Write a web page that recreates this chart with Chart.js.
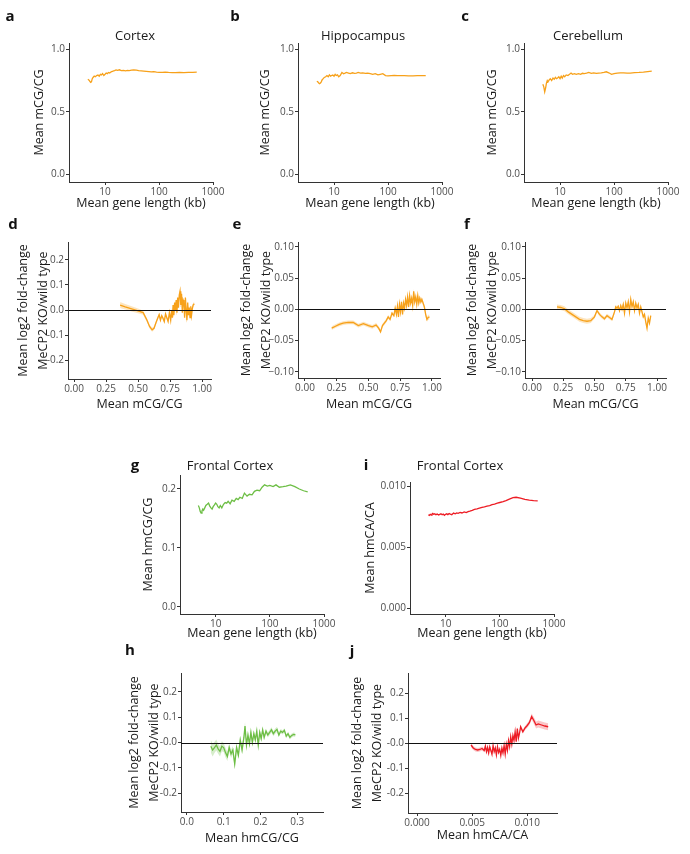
<!DOCTYPE html>
<html>
<head>
<meta charset="utf-8">
<script src="https://cdn.jsdelivr.net/npm/chart.js@4.4.1/dist/chart.umd.min.js"></script>
<style>
  body { margin: 0; background: #fff; width: 690px; height: 854px; position: relative; overflow: hidden; }
  canvas { position: absolute; }
</style>
</head>
<body>
<canvas id="pa"></canvas><canvas id="pb"></canvas><canvas id="pc"></canvas>
<canvas id="pd"></canvas><canvas id="pe"></canvas><canvas id="pf"></canvas>
<canvas id="pg"></canvas><canvas id="pi"></canvas>
<canvas id="ph"></canvas><canvas id="pj"></canvas>
<script>
// gene length bins (kb), shared by the length panels
const lengthKb = [
  4.8, 5.0, 5.2, 5.4, 5.6, 5.8, 6.0, 6.3, 6.6, 7.0,
  7.4, 7.8, 8.2, 8.6, 9.0, 9.5, 10, 10.5, 11, 11.6,
  12.2, 13, 14, 15, 16, 17, 18.5, 20, 22, 24,
  26, 28, 31, 34, 38, 42, 47, 52, 58, 65,
  72, 80, 90, 100, 115, 130, 150, 175, 200, 240,
  290, 350, 420, 500
];
const cortexMcg = [
  0.76, 0.755, 0.745, 0.735, 0.74, 0.765, 0.775, 0.785, 0.78, 0.79,
  0.795, 0.785, 0.80, 0.795, 0.805, 0.79, 0.80, 0.81, 0.805, 0.815,
  0.81, 0.82, 0.825, 0.83, 0.835, 0.832, 0.836, 0.83, 0.832, 0.828,
  0.832, 0.83, 0.834, 0.836, 0.834, 0.83, 0.828, 0.826, 0.824, 0.822,
  0.82, 0.822, 0.818, 0.816, 0.815, 0.817, 0.815, 0.814, 0.814, 0.815,
  0.814, 0.815, 0.816, 0.817
];
const hippoMcg = [
  0.745, 0.74, 0.73, 0.725, 0.73, 0.74, 0.755, 0.765, 0.775, 0.78,
  0.79, 0.78, 0.795, 0.785, 0.79, 0.795, 0.785, 0.80, 0.79, 0.795,
  0.78, 0.79, 0.815, 0.805, 0.81, 0.815, 0.81, 0.805, 0.812, 0.808,
  0.81, 0.815, 0.81, 0.812, 0.808, 0.81, 0.805, 0.80, 0.805, 0.795,
  0.80, 0.805, 0.79, 0.788, 0.79, 0.792, 0.79, 0.789, 0.789, 0.788,
  0.788, 0.789, 0.789, 0.79
];
const cerebMcg = [
  0.72, 0.70, 0.66, 0.69, 0.73, 0.75, 0.74, 0.755, 0.765, 0.75,
  0.77, 0.76, 0.775, 0.765, 0.77, 0.78, 0.765, 0.785, 0.77, 0.79,
  0.78, 0.795, 0.79, 0.80, 0.81, 0.80, 0.805, 0.80, 0.805, 0.80,
  0.808, 0.805, 0.81, 0.815, 0.808, 0.812, 0.808, 0.81, 0.812, 0.815,
  0.82, 0.812, 0.80, 0.805, 0.81, 0.812, 0.811, 0.81, 0.81, 0.813,
  0.815, 0.818, 0.822, 0.826
];
const frontalHmcg = [
  0.172, 0.168, 0.162, 0.159, 0.163, 0.166, 0.164, 0.168, 0.172, 0.174,
  0.176, 0.171, 0.168, 0.166, 0.170, 0.173, 0.176, 0.174, 0.170, 0.168,
  0.172, 0.168, 0.174, 0.177, 0.176, 0.179, 0.175, 0.181, 0.179, 0.184,
  0.182, 0.186, 0.184, 0.193, 0.188, 0.191, 0.190, 0.196, 0.198, 0.197,
  0.203, 0.207, 0.205, 0.206, 0.204, 0.207, 0.203, 0.204, 0.205, 0.207,
  0.204, 0.200, 0.197, 0.195
];
const frontalHmca = [
  0.00765, 0.00760, 0.00768, 0.00762, 0.00770, 0.00775, 0.00768, 0.00772, 0.00765, 0.00770,
  0.00762, 0.00768, 0.00772, 0.00765, 0.00770, 0.00760, 0.00768, 0.00772, 0.00766, 0.00775,
  0.00770, 0.00765, 0.00778, 0.00772, 0.00780, 0.00776, 0.00784, 0.00779, 0.00788, 0.00782,
  0.00790, 0.00794, 0.00800, 0.00808, 0.00812, 0.00818, 0.00825, 0.00830, 0.00836, 0.00840,
  0.00848, 0.00852, 0.00860, 0.00865, 0.00872, 0.00880, 0.00892, 0.00905, 0.00908, 0.00900,
  0.00890, 0.00884, 0.00880, 0.00879
];

// fold change vs methylation level (cortex, hippocampus, cerebellum)
const cortexFcX = [
  0.36, 0.40, 0.45, 0.50, 0.54, 0.57, 0.59, 0.61, 0.625, 0.64,
  0.655, 0.665, 0.675, 0.685, 0.695, 0.705, 0.715, 0.725, 0.735, 0.745,
  0.755, 0.762, 0.768, 0.774, 0.78, 0.786, 0.792, 0.798, 0.804, 0.81,
  0.816, 0.822, 0.828, 0.834, 0.84, 0.846, 0.852, 0.858, 0.864, 0.87,
  0.876, 0.882, 0.888, 0.894, 0.90, 0.906, 0.912, 0.918, 0.924, 0.93, 0.94
];
const cortexFc = [
  0.020, 0.013, 0.005, -0.003, -0.010, -0.040, -0.065, -0.078, -0.072, -0.050,
  -0.030, -0.018, -0.040, -0.022, -0.032, -0.045, -0.015, -0.030, -0.045, -0.010,
  -0.040, 0.000, -0.030, 0.020, -0.020, 0.030, 0.000, 0.040, -0.010, 0.050,
  0.010, 0.060, 0.075, 0.020, 0.065, -0.010, 0.040, 0.030, -0.030, 0.050,
  0.000, -0.040, 0.030, -0.020, 0.010, -0.030, 0.015, -0.020, 0.005, 0.020, 0.025
];
const cortexSe = [
  0.012, 0.011, 0.010, 0.009, 0.008, 0.008, 0.008, 0.008, 0.007, 0.007,
  0.007, 0.007, 0.007, 0.007, 0.007, 0.007, 0.007, 0.007, 0.007, 0.007,
  0.008, 0.008, 0.008, 0.008, 0.008, 0.008, 0.008, 0.008, 0.008, 0.008,
  0.008, 0.008, 0.008, 0.008, 0.008, 0.008, 0.008, 0.008, 0.008, 0.008,
  0.008, 0.008, 0.008, 0.008, 0.008, 0.008, 0.008, 0.008, 0.008, 0.008, 0.008
];
const hippoFcX = [
  0.21, 0.24, 0.27, 0.30, 0.34, 0.38, 0.42, 0.46, 0.50, 0.53,
  0.56, 0.58, 0.595, 0.61, 0.625, 0.64, 0.655, 0.67, 0.685, 0.70,
  0.71, 0.72, 0.728, 0.736, 0.744, 0.752, 0.76, 0.768, 0.776, 0.784,
  0.792, 0.80, 0.808, 0.816, 0.824, 0.832, 0.84, 0.848, 0.856, 0.864,
  0.872, 0.88, 0.888, 0.896, 0.904, 0.912, 0.92, 0.93, 0.94, 0.95,
  0.96, 0.97, 0.98
];
const hippoFc = [
  -0.030, -0.027, -0.024, -0.022, -0.021, -0.021, -0.026, -0.023, -0.026, -0.028,
  -0.025, -0.030, -0.036, -0.026, -0.022, -0.018, -0.012, -0.016, -0.006, -0.010,
  0.002, -0.008, 0.005, -0.012, 0.008, -0.004, 0.012, -0.008, 0.010, 0.002,
  0.016, 0.006, 0.020, 0.004, 0.022, 0.010, 0.018, 0.006, 0.029, 0.012,
  0.020, 0.008, 0.022, 0.010, 0.018, 0.012, 0.016, 0.010, 0.004, -0.008,
  -0.016, -0.013, -0.012
];
const hippoSe = [
  0.003, 0.003, 0.003, 0.003, 0.003, 0.003, 0.003, 0.003, 0.003, 0.003,
  0.003, 0.003, 0.003, 0.003, 0.003, 0.003, 0.003, 0.003, 0.003, 0.003,
  0.004, 0.004, 0.004, 0.004, 0.004, 0.004, 0.004, 0.004, 0.004, 0.004,
  0.004, 0.004, 0.004, 0.004, 0.004, 0.004, 0.004, 0.004, 0.004, 0.004,
  0.004, 0.004, 0.004, 0.004, 0.004, 0.004, 0.004, 0.004, 0.004, 0.004,
  0.004, 0.004, 0.004
];
const cerebFcX = [
  0.20, 0.23, 0.26, 0.29, 0.32, 0.35, 0.38, 0.41, 0.44, 0.47,
  0.50, 0.52, 0.54, 0.56, 0.58, 0.60, 0.62, 0.64, 0.66, 0.67,
  0.68, 0.69, 0.70, 0.71, 0.72, 0.73, 0.74, 0.75, 0.76, 0.77,
  0.78, 0.79, 0.80, 0.81, 0.82, 0.83, 0.84, 0.85, 0.86, 0.87,
  0.88, 0.89, 0.90, 0.91, 0.92, 0.93, 0.94, 0.95
];
const cerebFc = [
  0.004, 0.003, 0.001, -0.004, -0.008, -0.012, -0.016, -0.018, -0.019, -0.018,
  -0.012, -0.002, -0.008, -0.012, -0.015, -0.010, -0.013, -0.016, -0.004, 0.004,
  0.002, 0.005, -0.002, 0.006, 0.000, 0.008, -0.006, 0.010, 0.002, 0.012,
  -0.004, 0.016, 0.004, 0.012, -0.002, 0.010, 0.002, 0.008, -0.006, 0.004,
  -0.004, -0.012, -0.008, -0.020, -0.030, -0.014, -0.022, -0.010
];
const cerebSe = [
  0.004, 0.004, 0.004, 0.004, 0.004, 0.004, 0.004, 0.004, 0.004, 0.004,
  0.003, 0.003, 0.003, 0.003, 0.003, 0.003, 0.003, 0.003, 0.003, 0.003,
  0.003, 0.003, 0.003, 0.003, 0.003, 0.003, 0.003, 0.003, 0.003, 0.003,
  0.003, 0.003, 0.003, 0.003, 0.003, 0.003, 0.003, 0.003, 0.003, 0.003,
  0.003, 0.003, 0.003, 0.003, 0.003, 0.003, 0.003, 0.003
];

// fold change vs hydroxymethylation (frontal cortex)
const hmcgFcX = [
  0.065, 0.070, 0.075, 0.080, 0.085, 0.090, 0.095, 0.100, 0.105, 0.110,
  0.115, 0.120, 0.125, 0.130, 0.135, 0.140, 0.145, 0.150, 0.155, 0.158,
  0.162, 0.166, 0.170, 0.174, 0.178, 0.182, 0.186, 0.190, 0.194, 0.198,
  0.202, 0.206, 0.210, 0.215, 0.220, 0.225, 0.230, 0.235, 0.240, 0.245,
  0.250, 0.255, 0.260, 0.265, 0.270, 0.275, 0.280, 0.285, 0.290, 0.295
];
const hmcgFc = [
  -0.015, -0.030, -0.020, -0.010, -0.025, -0.035, -0.015, -0.020, -0.040, -0.055,
  -0.020, -0.045, -0.030, -0.085, -0.020, -0.050, 0.010, -0.030, 0.020, 0.065,
  -0.010, 0.030, -0.005, 0.040, 0.000, 0.035, 0.010, 0.045, -0.010, 0.040,
  0.015, 0.050, 0.020, 0.045, 0.030, 0.040, 0.050, 0.035, 0.045, 0.052,
  0.030, 0.045, 0.040, 0.048, 0.025, 0.035, 0.020, 0.028, 0.032, 0.030
];
const hmcgSe = [
  0.025, 0.025, 0.022, 0.022, 0.020, 0.020, 0.020, 0.018, 0.018, 0.018,
  0.016, 0.016, 0.016, 0.016, 0.016, 0.016, 0.016, 0.016, 0.016, 0.016,
  0.012, 0.012, 0.012, 0.012, 0.012, 0.012, 0.012, 0.012, 0.012, 0.012,
  0.010, 0.010, 0.010, 0.010, 0.010, 0.010, 0.010, 0.010, 0.010, 0.010,
  0.008, 0.008, 0.008, 0.008, 0.008, 0.008, 0.008, 0.008, 0.008, 0.008
];
const hmcaFcX = [
  0.0049, 0.0051, 0.0053, 0.0055, 0.0057, 0.0059, 0.0061, 0.0062, 0.0063, 0.0064,
  0.0065, 0.0066, 0.0067, 0.0068, 0.0069, 0.0070, 0.0071, 0.0072, 0.0073, 0.0074,
  0.0075, 0.0076, 0.0077, 0.0078, 0.0079, 0.0080, 0.0081, 0.0082, 0.0083, 0.0084,
  0.0085, 0.0086, 0.0087, 0.0088, 0.0089, 0.0090, 0.0091, 0.0092, 0.0093, 0.0094,
  0.0096, 0.0098, 0.0100, 0.0102, 0.0104, 0.0106, 0.0108, 0.0110, 0.0113, 0.0116, 0.0119
];
const hmcaFc = [
  -0.008, -0.020, -0.026, -0.028, -0.026, -0.022, -0.030, -0.012, -0.035, -0.018,
  -0.040, -0.015, -0.030, -0.045, -0.010, -0.035, -0.020, -0.048, -0.015, -0.038,
  -0.025, -0.050, -0.020, -0.040, -0.010, -0.045, -0.005, -0.030, 0.010, -0.015,
  0.025, -0.005, 0.030, 0.010, 0.045, 0.005, 0.058, 0.020, 0.040, 0.065,
  0.045, 0.060, 0.070, 0.082, 0.106, 0.090, 0.072, 0.076, 0.072, 0.068, 0.065
];
const hmcaSe = [
  0.008, 0.008, 0.008, 0.008, 0.008, 0.008, 0.008, 0.008, 0.008, 0.008,
  0.006, 0.006, 0.006, 0.006, 0.006, 0.006, 0.006, 0.006, 0.006, 0.006,
  0.006, 0.006, 0.006, 0.006, 0.006, 0.006, 0.006, 0.006, 0.006, 0.006,
  0.007, 0.007, 0.007, 0.007, 0.007, 0.007, 0.007, 0.007, 0.007, 0.007,
  0.008, 0.008, 0.009, 0.010, 0.012, 0.013, 0.014, 0.014, 0.014, 0.014, 0.014
];

// tick values and labels
const lenTicks = [10, 100, 1000];
const lenLabels = ['10', '100', '1000'];
const mcgTicks = [0, 0.5, 1];
const mcgLabels = ['0.0', '0.5', '1.0'];
const fracTicks = [0, 0.25, 0.5, 0.75, 1];
const fracLabels = ['0.00', '0.25', '0.50', '0.75', '1.00'];
const fcWideTicks = [-0.2, -0.1, 0, 0.1, 0.2];
const fcWideLabels = ['-0.2', '-0.1', '0.0', '0.1', '0.2'];
const fcWideLabels2 = ['-0.2', '-0.1', '-0.0', '0.1', '0.2'];
const fcNarrowTicks = [-0.1, -0.05, 0, 0.05, 0.1];
const fcNarrowLabels = ['\u22120.10', '\u22120.05', '0.00', '0.05', '0.10'];
const hmcgTicks = [0, 0.1, 0.2];
const hmcgLabels = ['0.0', '0.1', '0.2'];
const hmcgXTicks = [0, 0.1, 0.2, 0.3];
const hmcgXLabels = ['0.0', '0.1', '0.2', '0.3'];
const hmcaTicks = [0, 0.005, 0.01];
const hmcaLabels = ['0.000', '0.005', '0.010'];

const ORANGE = '#F7A11A', ORANGE_BAND = 'rgba(247,161,26,0.28)';
const GREEN = '#6DBE45', GREEN_BAND = 'rgba(109,190,69,0.28)';
const RED = '#ED1C24', RED_BAND = 'rgba(237,28,36,0.25)';
const FONT = "'Open Sans', sans-serif";
const FC_TITLE = ['Mean log2 fold-change', 'MeCP2 KO/wild type'];

Chart.defaults.font.family = FONT;
Chart.defaults.color = '#4d4d4d';

const panelText = {
    id: 'panelText',
    afterDraw(chart, args, opts) {
        const ctx = chart.ctx;
        const ox = chart.canvas.offsetLeft, oy = chart.canvas.offsetTop;
        ctx.save();
        ctx.textBaseline = 'middle';
        ctx.textAlign = 'center';
        ctx.fillStyle = '#111';
        if (opts.letter) {
            ctx.font = 'bold 15px ' + FONT;
            ctx.fillText(opts.letter[0], opts.letter[1] - ox, opts.letter[2] - oy);
        }
        if (opts.title) {
            ctx.fillStyle = '#1a1a1a';
            ctx.font = '13px ' + FONT;
            ctx.fillText(opts.title[0], opts.title[1] - ox, opts.title[2] - oy);
        }
        ctx.restore();
    }
};

const zeroLine = {
    id: 'zeroLine',
    afterDatasetsDraw(chart) {
        const {ctx, chartArea, scales} = chart;
        const y = Math.round(scales.y.getPixelForValue(0)) + 0.5;
        ctx.save();
        ctx.strokeStyle = '#111';
        ctx.lineWidth = 1;
        ctx.beginPath();
        ctx.moveTo(chartArea.left, y);
        ctx.lineTo(chartArea.right, y);
        ctx.stroke();
        ctx.restore();
    }
};

function axis(kind, min, max, ticks, labels, title, titlePad, fit) {
    const multi = Array.isArray(title);
    return {
        type: kind, min: min, max: max,
        afterFit: fit,
        afterBuildTicks: s => { s.ticks = ticks.map(v => ({value: v})); },
        ticks: {
            callback: (v, i) => labels[i],
            autoSkip: false, maxRotation: 0, padding: 1,
            color: '#4d4d4d', font: {size: 10}
        },
        grid: {drawOnChartArea: false, drawTicks: true, tickLength: 3, color: '#333', lineWidth: 1},
        border: {display: true, color: '#333', width: 1},
        title: {
            display: true, text: title, color: '#1a1a1a',
            font: {size: 12.5, lineHeight: multi ? 1.6 : 1.2},
            padding: titlePad
        }
    };
}

function makePanel(p) {
    const cv = document.getElementById(p.id);
    const [L, T, R, B] = p.box;
    const [x0, y0, x1, y1] = p.area;
    cv.width = R - L; cv.height = B - T;
    cv.style.left = L + 'px'; cv.style.top = T + 'px';
    cv.style.width = (R - L) + 'px'; cv.style.height = (B - T) + 'px';

    const datasets = [{
        data: p.xs.map((x, i) => ({x: x, y: p.ys[i]})),
        borderColor: p.color, borderWidth: 1.3, pointRadius: 0, fill: false, tension: 0
    }];
    if (p.se) {
        datasets.push({
            data: p.xs.map((x, i) => ({x: x, y: p.ys[i] + p.se[i]})),
            borderColor: 'rgba(0,0,0,0)', borderWidth: 0, pointRadius: 0,
            backgroundColor: p.band, fill: '+1', tension: 0
        });
        datasets.push({
            data: p.xs.map((x, i) => ({x: x, y: p.ys[i] - p.se[i]})),
            borderColor: 'rgba(0,0,0,0)', borderWidth: 0, pointRadius: 0, fill: false, tension: 0
        });
    }

    new Chart(cv, {
        type: 'line',
        data: {datasets: datasets},
        plugins: p.se ? [panelText, zeroLine] : [panelText],
        options: {
            responsive: false,
            animation: false,
            events: [],
            layout: {padding: {left: 0, top: y0 - T, right: R - x1, bottom: 0}},
            plugins: {
                legend: {display: false},
                tooltip: {enabled: false},
                panelText: {letter: p.letter, title: p.title}
            },
            scales: {
                x: axis(p.xType, p.xRange[0], p.xRange[1], p.xTicks, p.xLabels, p.xTitle,
                    {top: 0, bottom: p.xTitlePad}, s => { s.height = B - y1; }),
                y: axis('linear', p.yRange[0], p.yRange[1], p.yTicks, p.yLabels, p.yTitle,
                    {top: p.yTitlePad, bottom: 0}, s => { s.width = x0 - L; })
            }
        }
    });
}

const panels = [
    {id: 'pa', box: [0, 0, 230, 215], area: [69, 43, 213, 182], letter: ['a', 10, 17], title: ['Cortex', 135, 36],
     xs: lengthKb, ys: cortexMcg, color: ORANGE, xType: 'logarithmic', xRange: [2.15, 1000], xTicks: lenTicks, xLabels: lenLabels,
     yRange: [-0.06, 1.05], yTicks: mcgTicks, yLabels: mcgLabels, xTitle: 'Mean gene length (kb)', yTitle: 'Mean mCG/CG',
     xTitlePad: 4.5, yTitlePad: 31.5},
    {id: 'pb', box: [225, 0, 460, 215], area: [298, 43, 442, 182], letter: ['b', 235, 17], title: ['Hippocampus', 363, 36],
     xs: lengthKb, ys: hippoMcg, color: ORANGE, xType: 'logarithmic', xRange: [2.15, 1000], xTicks: lenTicks, xLabels: lenLabels,
     yRange: [-0.06, 1.05], yTicks: mcgTicks, yLabels: mcgLabels, xTitle: 'Mean gene length (kb)', yTitle: 'Mean mCG/CG',
     xTitlePad: 4.5, yTitlePad: 32.5},
    {id: 'pc', box: [455, 0, 690, 215], area: [524, 43, 668, 182], letter: ['c', 465, 17], title: ['Cerebellum', 588, 36],
     xs: lengthKb, ys: cerebMcg, color: ORANGE, xType: 'logarithmic', xRange: [2.15, 1000], xTicks: lenTicks, xLabels: lenLabels,
     yRange: [-0.06, 1.05], yTicks: mcgTicks, yLabels: mcgLabels, xTitle: 'Mean gene length (kb)', yTitle: 'Mean mCG/CG',
     xTitlePad: 4.5, yTitlePad: 29.5},
    {id: 'pd', box: [0, 215, 230, 425], area: [68, 242, 211, 379], letter: ['d', 13, 225],
     xs: cortexFcX, ys: cortexFc, se: cortexSe, color: ORANGE, band: ORANGE_BAND, xType: 'linear', xRange: [-0.047, 1.07],
     xTicks: fracTicks, xLabels: fracLabels, yRange: [-0.273, 0.27], yTicks: fcWideTicks, yLabels: fcWideLabels,
     xTitle: 'Mean mCG/CG', yTitle: FC_TITLE, xTitlePad: 13.5, yTitlePad: 13},
    {id: 'pe', box: [225, 215, 460, 425], area: [298, 242, 440, 378], letter: ['e', 237, 225],
     xs: hippoFcX, ys: hippoFc, se: hippoSe, color: ORANGE, band: ORANGE_BAND, xType: 'linear', xRange: [-0.055, 1.063],
     xTicks: fracTicks, xLabels: fracLabels, yRange: [-0.11, 0.108], yTicks: fcNarrowTicks, yLabels: fcNarrowLabels,
     xTitle: 'Mean mCG/CG', yTitle: FC_TITLE, xTitlePad: 13.5, yTitlePad: 11},
    {id: 'pf', box: [455, 215, 690, 425], area: [525, 242, 666, 378], letter: ['f', 467, 225],
     xs: cerebFcX, ys: cerebFc, se: cerebSe, color: ORANGE, band: ORANGE_BAND, xType: 'linear', xRange: [-0.056, 1.072],
     xTicks: fracTicks, xLabels: fracLabels, yRange: [-0.11, 0.108], yTicks: fcNarrowTicks, yLabels: fcNarrowLabels,
     xTitle: 'Mean mCG/CG', yTitle: FC_TITLE, xTitlePad: 13.5, yTitlePad: 7},
    {id: 'pg', box: [120, 440, 350, 645], area: [180, 475, 324, 614], letter: ['g', 135, 466], title: ['Frontal Cortex', 230, 466],
     xs: lengthKb, ys: frontalHmcg, color: GREEN, xType: 'logarithmic', xRange: [2.2, 1000], xTicks: lenTicks, xLabels: lenLabels,
     yRange: [-0.0119, 0.2237], yTicks: hmcgTicks, yLabels: hmcgLabels, xTitle: 'Mean gene length (kb)', yTitle: 'Mean hmCG/CG',
     xTitlePad: 4.5, yTitlePad: 20.5},
    {id: 'pi', box: [350, 440, 580, 645], area: [410, 482, 554, 614], letter: ['i', 366, 466], title: ['Frontal Cortex', 460, 466],
     xs: lengthKb, ys: frontalHmca, color: RED, xType: 'logarithmic', xRange: [2.2, 1000], xTicks: lenTicks, xLabels: lenLabels,
     yRange: [-0.00049, 0.01033], yTicks: hmcaTicks, yLabels: hmcaLabels, xTitle: 'Mean gene length (kb)', yTitle: 'Mean hmCA/CA',
     xTitlePad: 4.5, yTitlePad: 12.5},
    {id: 'ph', box: [120, 640, 350, 854], area: [181, 673, 323, 812], letter: ['h', 130, 651],
     xs: hmcgFcX, ys: hmcgFc, se: hmcgSe, color: GREEN, band: GREEN_BAND, xType: 'linear', xRange: [-0.016, 0.37],
     xTicks: hmcgXTicks, xLabels: hmcgXLabels, yRange: [-0.275, 0.275], yTicks: fcWideTicks, yLabels: fcWideLabels2,
     xTitle: 'Mean hmCG/CG', yTitle: FC_TITLE, xTitlePad: 8.5, yTitlePad: 4},
    {id: 'pj', box: [345, 640, 580, 854], area: [408, 673, 557, 813], letter: ['j', 352, 652],
     xs: hmcaFcX, ys: hmcaFc, se: hmcaSe, color: RED, band: RED_BAND, xType: 'linear', xRange: [-0.00082, 0.0127],
     xTicks: hmcaTicks, xLabels: hmcaLabels, yRange: [-0.28, 0.28], yTicks: fcWideTicks, yLabels: fcWideLabels2,
     xTitle: 'Mean hmCA/CA', yTitle: FC_TITLE, xTitlePad: 11.5, yTitlePad: 2}
];

panels.forEach(makePanel);
</script>
</body>
</html>
